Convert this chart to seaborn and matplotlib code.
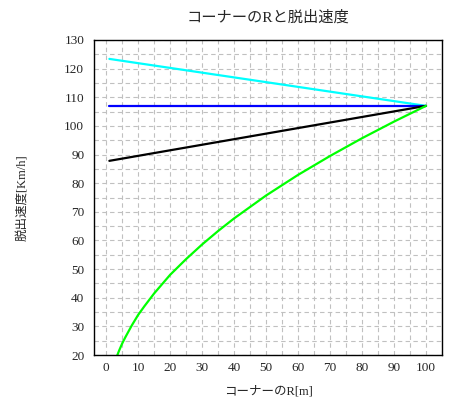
"""Corner radius vs exit speed chart (コーナーのRと脱出速度)."""
import matplotlib
matplotlib.use("Agg")
import matplotlib.pyplot as plt
from matplotlib.ticker import MultipleLocator
import pandas as pd
import seaborn as sns

# straight lines: start / end points
line_r = [1, 100]
cyan_v = [123.4, 107.0]
blue_v = [107.0, 107.0]
black_v = [87.8, 107.0]

# green curve, read at a handful of radii
green_r = [3, 4, 5, 6, 8, 10, 12, 15, 20, 25, 30, 35, 40, 50, 60, 70, 80, 90, 100]
green_v = [18.5, 21.4, 24.0, 26.2, 30.3, 34.0, 37.1, 41.5, 48.0, 53.5, 58.6,
           63.3, 67.7, 75.7, 82.9, 89.5, 95.7, 101.5, 107.0]

TITLE = "コーナーのRと脱出速度"
XLABEL = "コーナーのR[m]"
YLABEL = "脱出速度[Km/h]"

sns.set_style("white")
plt.rcParams["font.family"] = ["Liberation Serif", "Noto Sans CJK JP", "DejaVu Sans"]

lines = pd.DataFrame({"R": line_r, "cyan": cyan_v, "blue": blue_v, "black": black_v})
curve = pd.DataFrame({"R": green_r, "v": green_v})

fig = plt.figure(figsize=(4.61, 3.99), dpi=100)
ax = fig.add_axes([94 / 461, 1 - 355 / 399, 348 / 461, 315 / 399])

ax.grid(True, which="both", color="#c0c0c0", linestyle=(0, (4, 3)), linewidth=0.8)
ax.set_axisbelow(True)

sns.lineplot(data=lines, x="R", y="cyan", color="#00ffff", lw=1.6, ax=ax)
sns.lineplot(data=lines, x="R", y="blue", color="#0000ff", lw=1.6, ax=ax)
sns.lineplot(data=lines, x="R", y="black", color="#000000", lw=1.6, ax=ax)
sns.lineplot(data=curve, x="R", y="v", color="#00ff00", lw=1.6, ax=ax)

ax.set_xlim(-3.8, 105.0)
ax.set_ylim(20, 130)
ax.xaxis.set_major_locator(MultipleLocator(10))
ax.xaxis.set_minor_locator(MultipleLocator(5))
ax.yaxis.set_major_locator(MultipleLocator(10))
ax.yaxis.set_minor_locator(MultipleLocator(5))
ax.tick_params(which="both", direction="in", length=4, width=0.8, color="black")
ax.tick_params(axis="x", labelsize=9.5, pad=5)
ax.tick_params(axis="y", labelsize=9.5, pad=7)

for s in ax.spines.values():
    s.set_color("black")
    s.set_linewidth(1.0)

ax.set_xlabel(XLABEL, fontsize=9, labelpad=8)
ax.set_ylabel(YLABEL, fontsize=9, labelpad=26)
ax.set_title(TITLE, fontsize=11, pad=13)

fig.savefig("out.png", dpi=100)
